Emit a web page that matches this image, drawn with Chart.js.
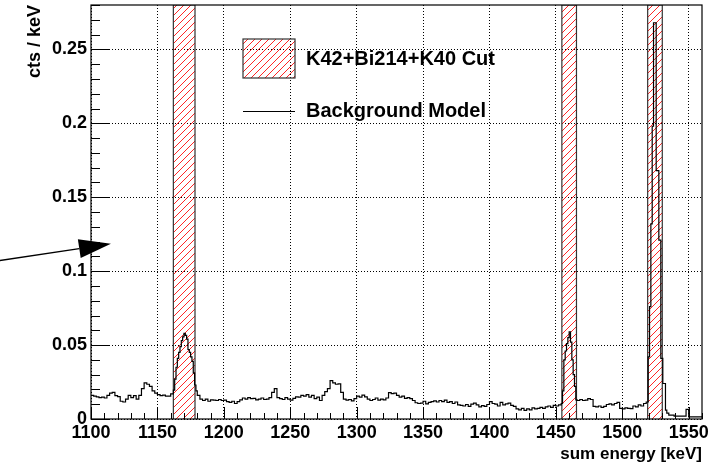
<!DOCTYPE html>
<html>
<head>
<meta charset="utf-8">
<script src="https://cdn.jsdelivr.net/npm/chart.js@4.4.0/dist/chart.umd.min.js"></script>
<style>
  html, body { margin: 0; padding: 0; background: #fff; }
  #chart { display: block; }
</style>
</head>
<body>
<canvas id="chart" width="725" height="467"></canvas>
<script>
'use strict'

// histogram bins: lower edge in keV and rate in cts/keV
let edgeKeV = [
        1100, 1102, 1104, 1106, 1108, 1110, 1112, 1114, 1116, 1118,
        1120, 1122, 1124, 1126, 1128, 1130, 1132, 1134, 1136, 1138,
        1140, 1142, 1144, 1146, 1148, 1150, 1152, 1154, 1156, 1158,
        1160, 1162, 1163, 1164, 1165, 1166, 1167, 1168, 1169, 1170,
        1171, 1172, 1173, 1174, 1175, 1176, 1177, 1178, 1179, 1180,
        1182, 1184, 1186, 1188, 1190, 1192, 1194, 1196, 1198, 1200,
        1202, 1204, 1206, 1208, 1210, 1212, 1214, 1216, 1218, 1220,
        1222, 1224, 1226, 1228, 1230, 1232, 1234, 1236, 1238, 1240,
        1242, 1244, 1246, 1248, 1250, 1252, 1254, 1256, 1258, 1260,
        1262, 1264, 1266, 1268, 1270, 1272, 1274, 1276, 1278, 1280,
        1282, 1284, 1286, 1288, 1290, 1292, 1294, 1296, 1298, 1300,
        1302, 1304, 1306, 1308, 1310, 1312, 1314, 1316, 1318, 1320,
        1322, 1324, 1326, 1328, 1330, 1332, 1334, 1336, 1338, 1340,
        1342, 1344, 1346, 1348, 1350, 1352, 1354, 1356, 1358, 1360,
        1362, 1364, 1366, 1368, 1370, 1372, 1374, 1376, 1378, 1380,
        1382, 1384, 1386, 1388, 1390, 1392, 1394, 1396, 1398, 1400,
        1402, 1404, 1406, 1408, 1410, 1412, 1414, 1416, 1418, 1420,
        1422, 1424, 1426, 1428, 1430, 1432, 1434, 1436, 1438, 1440,
        1442, 1444, 1446, 1448, 1450, 1452, 1454, 1455, 1456, 1457,
        1458, 1459, 1460, 1461, 1462, 1463, 1464, 1465, 1466, 1468,
        1470, 1472, 1474, 1476, 1478, 1480, 1482, 1484, 1486, 1488,
        1490, 1492, 1494, 1496, 1498, 1500, 1502, 1504, 1506, 1508,
        1510, 1512, 1514, 1516, 1518, 1519.5, 1520.5, 1521.5, 1522.5, 1523.5,
        1525.5, 1527.5, 1529, 1530.5, 1532.5, 1533.5, 1535, 1539, 1548, 1550],
    rate = [
        .0160, .0155, .0150, .0145, .0148, .0142, .0160, .0175, .0180, .0158,
        .0152, .0120, .0115, .0135, .0160, .0145, .0158, .0135, .0160, .0205,
        .0245, .0235, .0220, .0190, .0175, .0165, .0158, .0162, .0155, .0155,
        .0170, .0195, .0270, .0350, .0410, .0450, .0490, .0530, .0555, .0580,
        .0565, .0540, .0470, .0450, .0420, .0390, .0310, .0230, .0190, .0160,
        .0135, .0125, .0135, .0120, .0130, .0128, .0125, .0132, .0125, .0128,
        .0118, .0112, .0120, .0105, .0118, .0130, .0142, .0135, .0145, .0138,
        .0140, .0130, .0135, .0142, .0132, .0135, .0145, .0180, .0205, .0145,
        .0138, .0132, .0145, .0135, .0128, .0140, .0150, .0148, .0160, .0155,
        .0165, .0148, .0160, .0138, .0148, .0125, .0160, .0185, .0205, .0260,
        .0245, .0235, .0238, .0180, .0135, .0128, .0132, .0122, .0138, .0155,
        .0148, .0162, .0150, .0135, .0125, .0132, .0142, .0128, .0135, .0130,
        .0142, .0178, .0172, .0175, .0160, .0148, .0155, .0140, .0145, .0138,
        .0125, .0110, .0105, .0108, .0120, .0102, .0112, .0118, .0122, .0115,
        .0125, .0118, .0128, .0112, .0118, .0105, .0115, .0095, .0092, .0088,
        .0098, .0085, .0100, .0108, .0095, .0082, .0090, .0085, .0098, .0118,
        .0105, .0100, .0088, .0112, .0095, .0102, .0108, .0092, .0085, .0068,
        .0062, .0072, .0058, .0068, .0062, .0075, .0068, .0072, .0078, .0072,
        .0082, .0088, .0078, .0092, .0088, .0095, .0105, .0190, .0400, .0460,
        .0510, .0550, .0590, .0520, .0400, .0300, .0220, .0130, .0125, .0132,
        .0125, .0128, .0138, .0132, .0085, .0082, .0088, .0078, .0085, .0098,
        .0102, .0095, .0105, .0112, .0072, .0068, .0075, .0072, .0070, .0088,
        .0082, .0095, .0088, .0105, .0115, .0420, .0760, .1320, .1980, .2680,
        .1680, .1210, .0410, .0240, .0060, .0040, .0026, .0020, .0065, .0015],
    xMin = 1100,
    xMax = 1560,
    yMax = 0.28,
    // K42 + Bi214 + K40 cut windows (keV)
    cutLow = [1162, 1454.5, 1519.1],
    cutHigh = [1178.3, 1465.5, 1530.1],
    // arrow in data coordinates: tail and tip
    arrowTail = [1030, 0.107],
    arrowTip = [1115, 0.1185],
    fontFamily = '"Liberation Sans", Arial, Helvetica, sans-serif'

function makeHatch() {
    let c = document.createElement('canvas')
    c.width = 7
    c.height = 7
    let g = c.getContext('2d')
    g.strokeStyle = 'rgba(255,0,0,0.85)'
    g.lineWidth = 1
    g.beginPath()
    g.moveTo(-1, 8); g.lineTo(8, -1)
    g.moveTo(-1, 1); g.lineTo(1, -1)
    g.moveTo(6, 8); g.lineTo(8, 6)
    g.stroke()
    return document.getElementById('chart').getContext('2d').createPattern(c, 'repeat')
}
let hatch = makeHatch()

let histPoints = edgeKeV.map((e, i) => ({x: e, y: rate[i]}))
histPoints.push({x: xMax, y: rate[rate.length - 1]})

let datasets = [{
    label: 'Background Model',
    data: histPoints,
    stepped: 'before',
    borderColor: '#000',
    borderWidth: 1.2,
    pointRadius: 0,
    fill: false,
    order: 0
}]
for (let i = 0; i < cutLow.length; i++) {
    datasets.push({
        label: 'K42+Bi214+K40 Cut',
        data: [{x: cutLow[i], y: 0}, {x: cutLow[i], y: yMax}, {x: cutHigh[i], y: yMax}, {x: cutHigh[i], y: 0}],
        borderColor: '#333',
        borderWidth: 1.2,
        backgroundColor: hatch,
        fill: 'origin',
        pointRadius: 0,
        order: 1
    })
}

// ROOT style frame with inward major/minor ticks, legend and arrow
let frameTicks = {
    id: 'frameTicks',
    afterDatasetsDraw(chart) {
        let {ctx, chartArea: a, scales: {x, y}} = chart
        ctx.save()
        ctx.strokeStyle = '#000'
        ctx.lineWidth = 1
        ctx.beginPath()
        for (let v = xMin; v <= xMax; v += 10) {
            let px = Math.round(x.getPixelForValue(v)) + 0.5
            let len = v % 50 === 0 ? 12 : 6
            ctx.moveTo(px, a.bottom)
            ctx.lineTo(px, a.bottom - len)
        }
        for (let i = 0; i <= 28; i++) {
            let py = Math.round(y.getPixelForValue(i / 100)) + 0.5
            let len = i % 5 === 0 ? 18 : 9
            ctx.moveTo(a.left, py)
            ctx.lineTo(a.left + len, py)
        }
        ctx.stroke()
        ctx.lineWidth = 1.2
        ctx.strokeRect(a.left, a.top, a.right - a.left, a.bottom - a.top)
        ctx.restore()
    },
    afterDraw(chart) {
        let {ctx, chartArea: a, scales: {x, y}} = chart
        ctx.save()
        // legend
        let bx = a.left + 152, by = a.top + 34
        ctx.fillStyle = hatch
        ctx.fillRect(bx, by, 52, 39)
        ctx.strokeStyle = '#333'
        ctx.lineWidth = 1.2
        ctx.strokeRect(bx, by, 52, 39)
        ctx.beginPath()
        ctx.strokeStyle = '#000'
        ctx.lineWidth = 1
        ctx.moveTo(bx, a.top + 106.5)
        ctx.lineTo(bx + 52, a.top + 106.5)
        ctx.stroke()
        ctx.fillStyle = '#000'
        ctx.font = 'bold 20px ' + fontFamily
        ctx.textBaseline = 'middle'
        ctx.textAlign = 'left'
        ctx.fillText('K42+Bi214+K40 Cut', bx + 63, by + 20)
        ctx.fillText('Background Model', bx + 63, a.top + 106)
        // arrow
        let x0 = x.getPixelForValue(arrowTail[0]), y0 = y.getPixelForValue(arrowTail[1])
        let x1 = x.getPixelForValue(arrowTip[0]), y1 = y.getPixelForValue(arrowTip[1])
        let ang = Math.atan2(y1 - y0, x1 - x0)
        let hl = 32, hw = 9.5
        let bxA = x1 - hl * Math.cos(ang), byA = y1 - hl * Math.sin(ang)
        ctx.beginPath()
        ctx.lineWidth = 1.3
        ctx.moveTo(x0, y0)
        ctx.lineTo(bxA, byA)
        ctx.stroke()
        ctx.beginPath()
        ctx.moveTo(x1, y1)
        ctx.lineTo(bxA - hw * Math.sin(ang), byA + hw * Math.cos(ang))
        ctx.lineTo(bxA + hw * Math.sin(ang), byA - hw * Math.cos(ang))
        ctx.closePath()
        ctx.fill()
        ctx.restore()
    }
}

let config = {
    type: 'line',
    data: {datasets: datasets},
    options: {
        responsive: false,
        animation: false,
        layout: {padding: {left: 0, top: 5, right: 23, bottom: 0}},
        plugins: {legend: {display: false}, tooltip: {enabled: false}},
        scales: {
            x: {
                type: 'linear',
                min: xMin,
                max: xMax,
                afterFit: s => { s.height = 48; s.paddingLeft = 0; s.paddingRight = 0 },
                ticks: {
                    stepSize: 50,
                    includeBounds: false,
                    maxRotation: 0,
                    autoSkip: false,
                    padding: 3,
                    color: '#000',
                    font: {family: fontFamily, size: 18, weight: 'bold'},
                    callback: v => String(v)
                },
                grid: {color: '#000', lineWidth: 1, drawTicks: false},
                border: {display: false, dash: [1, 2]},
                title: {
                    display: true,
                    text: 'sum energy [keV]',
                    align: 'end',
                    color: '#000',
                    padding: {top: 0, bottom: 2},
                    font: {family: fontFamily, size: 17, weight: 'bold'}
                }
            },
            y: {
                min: 0,
                max: yMax,
                afterFit: s => { s.width = 91; s.paddingTop = 0; s.paddingBottom = 0 },
                ticks: {
                    stepSize: 0.05,
                    includeBounds: false,
                    padding: 4,
                    color: '#000',
                    font: {family: fontFamily, size: 18, weight: 'bold'},
                    callback: v => String(+v.toFixed(2))
                },
                grid: {color: '#000', lineWidth: 1, drawTicks: false},
                border: {display: false, dash: [1, 2]},
                title: {
                    display: true,
                    text: 'cts / keV',
                    align: 'end',
                    color: '#000',
                    padding: {top: 24, bottom: 0},
                    font: {family: fontFamily, size: 18, weight: 'bold'}
                }
            }
        }
    },
    plugins: [frameTicks]
}

let myChart = new Chart(document.getElementById('chart'), config)
</script>
</body>
</html>
